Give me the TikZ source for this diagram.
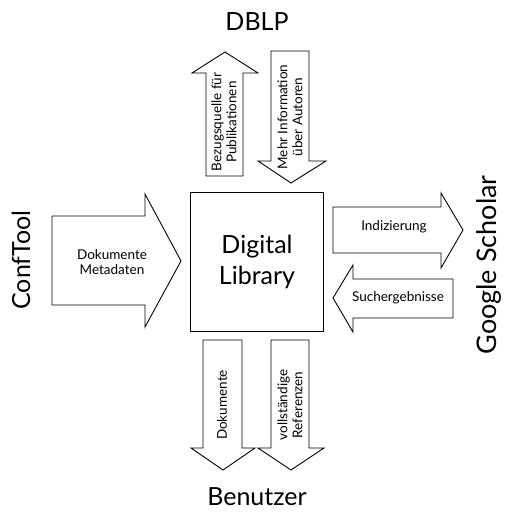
\documentclass[tikz,border=0pt]{standalone}
\usepackage{fontspec}
\setmainfont{Lato}
\begin{document}
\begin{tikzpicture}[x=1pt,y=-1pt,
  blk/.style={draw=black,line width=0.9pt,fill=white,line join=miter},
  small/.style={font=\fontsize{13.5}{15}\selectfont,align=center,inner sep=0pt},
  big/.style={font=\fontsize{25}{28}\selectfont,inner sep=0pt}]
\useasboundingbox (0,0) rectangle (504,512);
% main box
\node[blk,minimum width=133pt,minimum height=139pt,inner sep=0pt,
  font=\fontsize{25}{31}\selectfont,align=center] (dl) at (257,262) {Digital\\Library};
% up arrow (Bezugsquelle)
\draw[blk] (206,176) -- (206,73) -- (192,73) -- (225,52) -- (258,73) -- (243,73) -- (243,176) -- cycle;
\node[small,rotate=90] (bez) at (224,122) {Bezugsquelle für\\Publikationen};
% down arrow (Mehr Information)
\draw[blk] (271,51) -- (271,161) -- (258,161) -- (291,183) -- (326,161) -- (309,161) -- (309,51) -- cycle;
\node[small,rotate=90] (mehr) at (290,117) {Mehr Information\\über Autoren};
% bottom down arrows
\draw[blk] (203,340) -- (203,448) -- (191,448) -- (223,470) -- (255,448) -- (242,448) -- (242,340) -- cycle;
\node[small,rotate=90] (dok) at (222,405) {Dokumente};
\draw[blk] (271,340) -- (271,448) -- (258,448) -- (291,470) -- (324,448) -- (309,448) -- (309,340) -- cycle;
\node[small,rotate=90] (voll) at (290,405) {vollständige\\Referenzen};
% left arrow (ConfTool)
\draw[blk] (52,216) -- (145,216) -- (145,194) -- (181,261) -- (145,327) -- (145,305) -- (52,305) -- cycle;
\node[small] (dm) at (112,262) {Dokumente\\Metadaten};
% right arrows
\draw[blk] (333,207) -- (441,207) -- (441,193) -- (463,230) -- (441,268) -- (441,253) -- (333,253) -- cycle;
\node[small] (idx) at (394,227) {Indizierung};
\draw[blk] (453,279) -- (353,279) -- (353,265) -- (333,298) -- (353,332) -- (353,318) -- (453,318) -- cycle;
\node[small] (such) at (398,298) {Suchergebnisse};
% outer labels
\node[big] (dblp) at (257,22) {DBLP};
\node[big] (ben) at (257,497) {Benutzer};
\node[big,rotate=90] (ct) at (21,260) {ConfTool};
\node[big,rotate=90,font=\fontsize{27}{30}\selectfont] (gs) at (489,265) {Google Scholar};
\end{tikzpicture}
\end{document}
